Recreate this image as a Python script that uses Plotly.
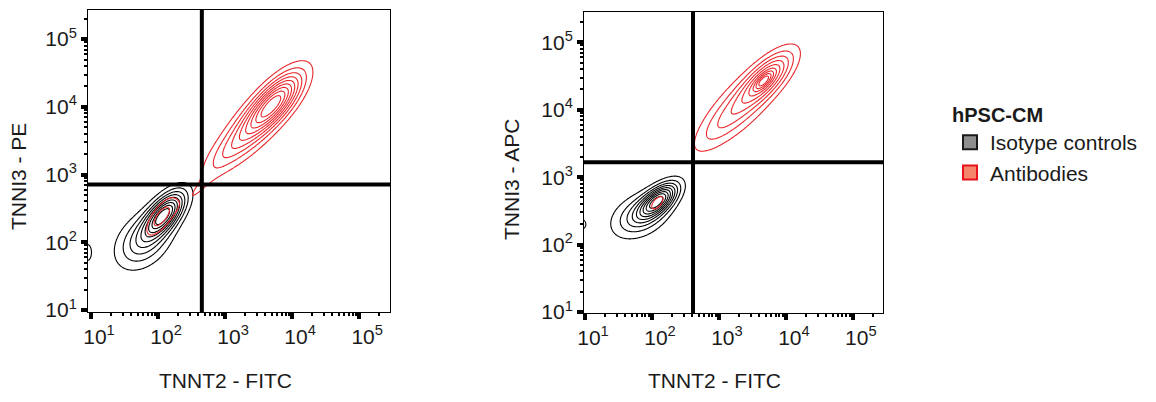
import numpy as np
import plotly.graph_objects as go

# ---------------- data (log10 fluorescence units) ----------------
# Each population is described as a small mixture of 2-D log-normal
# components: centre, spread, correlation, height.
iso1_cx = [2.10, 1.78, 0.95]
iso1_cy = [2.42, 2.02, 1.85]
iso1_sx = [0.20, 0.27, 0.05]
iso1_sy = [0.22, 0.27, 0.105]
iso1_rho = [0.62, 0.35, 0.0]
iso1_amp = [1.0, 0.40, 0.2]

ab1_cx = [3.75, 3.35, 2.95, 2.55, 2.05]
ab1_cy = [4.08, 3.65, 3.25, 2.72, 2.38]
ab1_sx = [0.27, 0.31, 0.25, 0.20, 0.16]
ab1_sy = [0.29, 0.33, 0.25, 0.20, 0.20]
ab1_rho = [0.72, 0.72, 0.75, 0.85, 0.70]
ab1_amp = [1.0, 0.45, 0.15, 0.10, 0.30]

iso2_cx = [2.10, 1.82, 0.97]
iso2_cy = [2.66, 2.43, 2.30]
iso2_sx = [0.19, 0.28, 0.04]
iso2_sy = [0.17, 0.22, 0.06]
iso2_rho = [0.62, 0.35, 0.0]
iso2_amp = [1.0, 0.40, 0.2]

ab2_cx = [3.72, 3.67, 3.30, 2.95, 2.08]
ab2_cy = [4.48, 4.43, 4.05, 3.70, 2.62]
ab2_sx = [0.26, 0.09, 0.34, 0.28, 0.12]
ab2_sy = [0.26, 0.09, 0.34, 0.28, 0.13]
ab2_rho = [0.72, 0.70, 0.68, 0.75, 0.60]
ab2_amp = [1.0, 0.50, 0.50, 0.20, 0.22]

gate_x = [450, 410]      # TNNT2 gate per panel
gate_y = [710, 1660]     # TNNI3 gate per panel

x_titles = ["TNNT2 - FITC", "TNNT2 - FITC"]
y_titles = ["TNNI3 - PE", "TNNI3 - APC"]
decades = [1, 2, 3, 4, 5]
tick_text = ["10<sup>1</sup>", "10<sup>2</sup>", "10<sup>3</sup>", "10<sup>4</sup>", "10<sup>5</sup>"]

legend_title = "hPSC-CM"
series_names = ["Isotype controls", "Antibodies"]
line_colors = ["#000000", "#e8262a"]
swatch_fill = ["#8e8e8e", "#f4866c"]
swatch_line = ["#1a1a1a", "#e8121b"]

# ---------------- density grids ----------------
grid = np.linspace(0.85, 5.6, 380)
GX, GY = np.meshgrid(grid, grid)


def density(cx, cy, sx, sy, rho, amp):
    z = np.zeros_like(GX)
    for a, b, c, d, r, h in zip(cx, cy, sx, sy, rho, amp):
        u = (GX - a) / c
        v = (GY - b) / d
        q = (u * u - 2 * r * u * v + v * v) / (1 - r * r)
        z += h * np.exp(-0.5 * q)
    return z / z.max()


panels = [
    [density(iso1_cx, iso1_cy, iso1_sx, iso1_sy, iso1_rho, iso1_amp),
     density(ab1_cx, ab1_cy, ab1_sx, ab1_sy, ab1_rho, ab1_amp)],
    [density(iso2_cx, iso2_cy, iso2_sx, iso2_sy, iso2_rho, iso2_amp),
     density(ab2_cx, ab2_cy, ab2_sx, ab2_sy, ab2_rho, ab2_amp)],
]

FONT = "Arial, Liberation Sans, sans-serif"
W, H = 1156, 402

fig = go.Figure()
for p, (zi, za) in enumerate(panels):
    xa = "x" if p == 0 else "x2"
    ya = "y" if p == 0 else "y2"
    for s, z in enumerate([zi, za]):
        fig.add_trace(go.Contour(
            x=grid, y=grid, z=z, xaxis=xa, yaxis=ya,
            contours=dict(coloring="lines", start=0.1, end=0.9, size=0.1),
            colorscale=[[0, line_colors[s]], [1, line_colors[s]]],
            line=dict(width=1.1, smoothing=1.0),
            showscale=False, showlegend=False, hoverinfo="skip",
        ))

# legend entries
for s in range(2):
    fig.add_trace(go.Scatter(
        x=[None], y=[None], mode="markers", name=series_names[s],
        marker=dict(symbol="square", size=14, color=swatch_fill[s],
                    line=dict(color=swatch_line[s], width=2)),
        xaxis="x2", yaxis="y2",
    ))

# minor tick positions
minor_vals = [np.log10(k * 10 ** d) for d in range(0, 6) for k in range(2, 10)]

xdom = [[88 / W, 390 / W], [584 / W, 883 / W]]
ydom = [[1 - 312 / H, 1 - 10 / H], [1 - 313 / H, 1 - 12 / H]]
xr = [[0.955, 5.46], [0.985, 5.45]]
yr = [[0.97, 5.43], [0.985, 5.45]]


def axis(dom, rng, anchor, shift=0):
    return dict(
        domain=dom, range=rng, anchor=anchor, automargin=False,
        tickmode="array", tickvals=decades, ticktext=tick_text,
        ticks="outside", ticklen=6, tickwidth=4, tickcolor="black",
        ticklabelshift=shift,
        showline=True, linewidth=1, linecolor="black", mirror=True,
        showgrid=False, zeroline=False,
        tickfont=dict(family=FONT, size=21, color="#1a1a1a"),
        minor=dict(tickmode="array", tickvals=minor_vals, ticks="outside",
                   ticklen=3, tickwidth=2, tickcolor="black", showgrid=False),
    )


fig.update_layout(
    width=W, height=H, margin=dict(l=0, r=0, t=0, b=0, autoexpand=False),
    paper_bgcolor="white", plot_bgcolor="white",
    xaxis=axis(xdom[0], xr[0], "y", 8),
    yaxis=axis(ydom[0], yr[0], "x"),
    xaxis2=axis(xdom[1], xr[1], "y2", 8),
    yaxis2=axis(ydom[1], yr[1], "x2"),
    font=dict(family=FONT, size=21, color="#1a1a1a"),
    legend=dict(
        x=950 / W, y=1 - 96 / H, xanchor="left", yanchor="top",
        title=dict(text="<b>" + legend_title + "</b>", font=dict(size=20)),
        font=dict(size=21), bgcolor="rgba(0,0,0,0)",
        itemclick=False, itemdoubleclick=False,
    ),
)

shapes = []
for p in range(2):
    xs = "x" if p == 0 else "x2"
    ys = "y" if p == 0 else "y2"
    shapes.append(dict(type="line", xref=xs, yref=ys + " domain",
                       x0=np.log10(gate_x[p]), x1=np.log10(gate_x[p]), y0=0, y1=1,
                       line=dict(color="black", width=4)))
    shapes.append(dict(type="line", xref=xs + " domain", yref=ys,
                       x0=0, x1=1, y0=np.log10(gate_y[p]), y1=np.log10(gate_y[p]),
                       line=dict(color="black", width=4)))
fig.update_layout(shapes=shapes)

# axis titles placed as annotations (pixel positions)
ann = []
xt_pos = [(225, 380), (714, 380)]
yt_pos = [(18, 177), (512, 180)]
for p in range(2):
    ann.append(dict(text=x_titles[p], xref="paper", yref="paper",
                    x=xt_pos[p][0] / W, y=1 - xt_pos[p][1] / H,
                    xanchor="center", yanchor="middle", showarrow=False,
                    font=dict(family=FONT, size=21, color="#1a1a1a")))
    ann.append(dict(text=y_titles[p], xref="paper", yref="paper",
                    x=yt_pos[p][0] / W, y=1 - yt_pos[p][1] / H, textangle=-90,
                    xanchor="center", yanchor="middle", showarrow=False,
                    font=dict(family=FONT, size=21, color="#1a1a1a")))
fig.update_layout(annotations=ann)

fig.write_html("out.html")
